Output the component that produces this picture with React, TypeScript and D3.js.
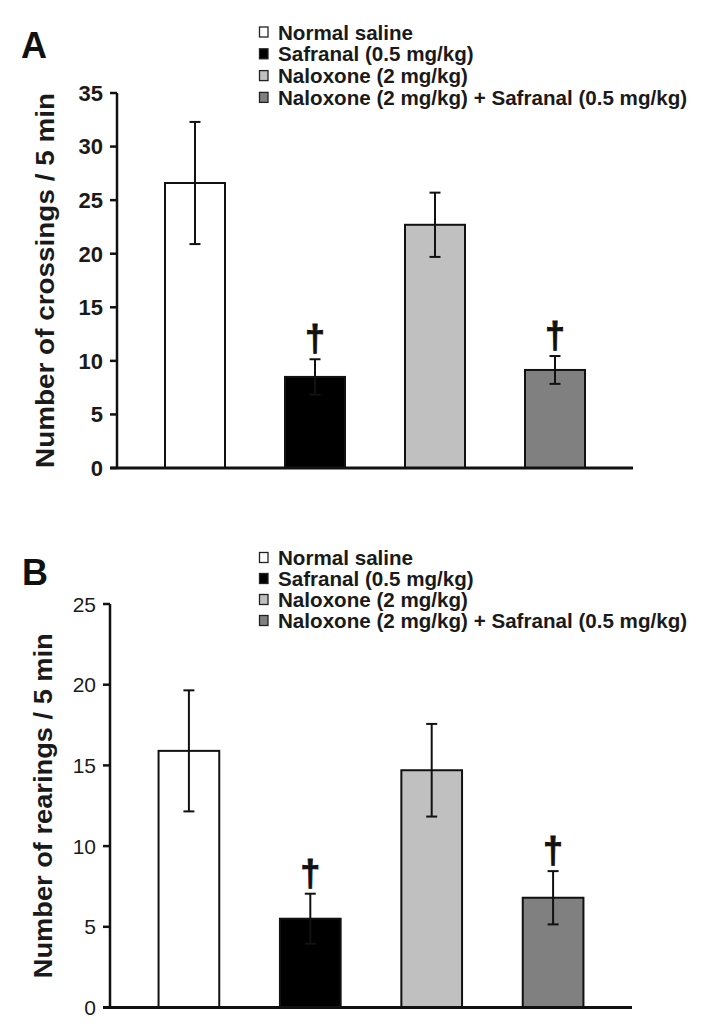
import React from "react";
import * as d3 from "d3";

const categories = [
  "Normal saline",
  "Safranal (0.5 mg/kg)",
  "Naloxone (2 mg/kg)",
  "Naloxone (2 mg/kg) + Safranal (0.5 mg/kg)",
];
const fills = ["#ffffff", "#000000", "#c0c0c0", "#808080"];
const significant = [false, true, false, true];

const crossingsMean = [26.6, 8.5, 22.7, 9.15];
const crossingsSem = [5.7, 1.65, 3.0, 1.3];
const crossingsTicks = [0, 5, 10, 15, 20, 25, 30, 35];

const rearingsMean = [15.9, 5.5, 14.7, 6.8];
const rearingsSem = [3.75, 1.55, 2.87, 1.65];
const rearingsTicks = [0, 5, 10, 15, 20, 25];

const FONT = "'Liberation Sans', Arial, sans-serif";

type PanelProps = {
  letter: string;
  letterX: number;
  letterY: number;
  legendY: number;
  legendStep: number;
  x0: number;
  x1: number;
  yBottom: number;
  yTop: number;
  yMax: number;
  ticks: number[];
  tickBold: boolean;
  means: number[];
  sems: number[];
  yLabel: string;
  yLabelX: number;
  yLabelLen: number;
};

function Panel(p: PanelProps) {
  const x = d3
    .scaleBand<string>()
    .domain(categories)
    .range([p.x0, p.x1])
    .paddingInner(0.5)
    .paddingOuter(0.4);
  const y = d3.scaleLinear().domain([0, p.yMax]).range([p.yBottom, p.yTop]);
  const bw = x.bandwidth();
  const cap = 5.5;
  const yMid = (p.yBottom + p.yTop) / 2;
  return (
    <g>
      <text
        x={p.letterX}
        y={p.letterY}
        fontFamily={FONT}
        fontWeight="bold"
        fontSize={36}
        fill="#111"
      >
        {p.letter}
      </text>
      {/* legend */}
      {categories.map((c, i) => {
        const by = p.legendY + i * p.legendStep;
        return (
          <g key={c}>
            <rect
              x={259.5}
              y={by - 12.5}
              width={8.5}
              height={10}
              fill={fills[i]}
              stroke="#222"
              strokeWidth={1.3}
            />
            <text
              x={278}
              y={by}
              fontFamily={FONT}
              fontWeight="bold"
              fontSize={20.6}
              fill="#1a1a1a"
            >
              {c}
            </text>
          </g>
        );
      })}
      {/* y axis label */}
      <text
        transform={`translate(${p.yLabelX},${yMid}) rotate(-90)`}
        textAnchor="middle"
        fontFamily={FONT}
        fontWeight="bold"
        fontSize={26}
        fill="#1a1a1a"
        textLength={p.yLabelLen}
        lengthAdjust="spacingAndGlyphs"
      >
        {p.yLabel}
      </text>
      {/* bars */}
      {categories.map((c, i) => {
        const bx = x(c) as number;
        const cx = bx + bw / 2;
        const top = y(p.means[i]);
        const eTop = y(p.means[i] + p.sems[i]);
        const eBot = y(p.means[i] - p.sems[i]);
        return (
          <g key={c}>
            <rect
              x={bx}
              y={top}
              width={bw}
              height={p.yBottom - top}
              fill={fills[i]}
              stroke="#111"
              strokeWidth={2}
            />
            <line x1={cx} x2={cx} y1={eTop} y2={eBot} stroke="#111" strokeWidth={2} />
            <line x1={cx - cap} x2={cx + cap} y1={eTop} y2={eTop} stroke="#111" strokeWidth={2} />
            <line x1={cx - cap} x2={cx + cap} y1={eBot} y2={eBot} stroke="#111" strokeWidth={2} />
            {significant[i] && (
              <text
                x={cx}
                y={eTop - 8}
                textAnchor="middle"
                fontFamily={FONT}
                fontWeight="bold"
                fontSize={36}
                fill="#111"
                stroke="#111"
                strokeWidth={0.8}
              >
                †
              </text>
            )}
          </g>
        );
      })}
      {/* y axis */}
      <line x1={p.x0} x2={p.x0} y1={p.yTop} y2={p.yBottom + 1} stroke="#111" strokeWidth={2.5} />
      {p.ticks.map((t) => (
        <g key={t}>
          <line x1={p.x0 - 7} x2={p.x0} y1={y(t)} y2={y(t)} stroke="#111" strokeWidth={2.5} />
          <text
            x={p.x0 - 14}
            y={y(t)}
            dy="0.36em"
            textAnchor="end"
            fontFamily={FONT}
            fontWeight={p.tickBold ? "bold" : "normal"}
            fontSize={p.tickBold ? 22 : 21}
            fill="#1a1a1a"
          >
            {t}
          </text>
        </g>
      ))}
      {/* x axis */}
      <line x1={p.x0 - 7} x2={p.x1} y1={p.yBottom} y2={p.yBottom} stroke="#111" strokeWidth={3} />
    </g>
  );
}

export default function App() {
  return (
    <div style={{ position: "absolute", left: 0, top: 0 }}>
      <svg width={710} height={1028} style={{ display: "block", background: "#fff" }}>
        <Panel
          letter="A"
          letterX={21}
          letterY={58}
          legendY={39.5}
          legendStep={21.8}
          x0={117}
          x1={633}
          yBottom={468}
          yTop={93}
          yMax={35}
          ticks={crossingsTicks}
          tickBold={true}
          means={crossingsMean}
          sems={crossingsSem}
          yLabel="Number of crossings / 5 min"
          yLabelX={54}
          yLabelLen={375}
        />
        <Panel
          letter="B"
          letterX={22}
          letterY={585}
          legendY={565}
          legendStep={21}
          x0={110}
          x1={632}
          yBottom={1007.5}
          yTop={604}
          yMax={25}
          ticks={rearingsTicks}
          tickBold={false}
          means={rearingsMean}
          sems={rearingsSem}
          yLabel="Number of rearings / 5 min"
          yLabelX={52}
          yLabelLen={345}
        />
      </svg>
    </div>
  );
}
